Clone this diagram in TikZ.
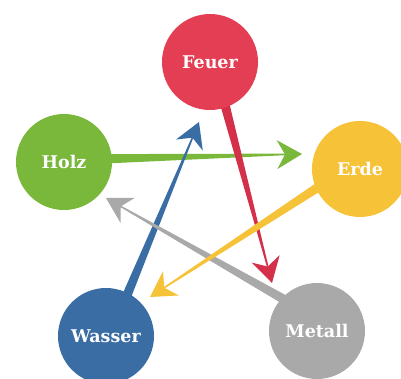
\documentclass[tikz,border=0pt]{standalone}
\usepackage{fontspec}
\setmainfont{DejaVu Serif}
\usetikzlibrary{calc,backgrounds}

\definecolor{feuerc}{HTML}{E43E55}
\definecolor{feuerarrow}{HTML}{D4304A}
\definecolor{holzc}{HTML}{79B83B}
\definecolor{erdec}{HTML}{F6C237}
\definecolor{wasserc}{HTML}{3A6DA3}
\definecolor{metallc}{HTML}{A9A9A9}

\tikzset{
  element/.style={circle, minimum size=96pt, inner sep=0pt, text=white,
    font=\fontsize{17.5}{20}\selectfont\bfseries},
}

% tapered arrow: #1 start anchor, #2 tip coordinate, #3 colour
\newcommand\elemarrow[3]{%
  \path ($(#1)!-12pt!(#2)$) coordinate (ab);
  \path ($(#2)!17pt!(#1)$) coordinate (an);
  \path ($(#2)!25pt!(#1)$) coordinate (ah);
  \fill[#3] ($(ab)!4.8pt!90:(#2)$) -- ($(an)!0.8pt!90:(#2)$)
    -- ($(an)!0.8pt!-90:(#2)$) -- ($(ab)!4.8pt!-90:(#2)$) -- cycle;
  \fill[#3] (#2) -- ($(ah)!14.5pt!90:(#2)$) -- (an)
    -- ($(ah)!14.5pt!-90:(#2)$) -- cycle;
}

\begin{document}
\begin{tikzpicture}[x=1pt, y=-1pt]
  \useasboundingbox (0,0) rectangle (401,378);
  \clip (0,0) rectangle (401,378);

  % the five elements
  \node[element, fill=feuerc]  (feuer)  at (210,62)  {Feuer};
  \node[element, fill=holzc]   (holz)   at (64,162)  {Holz};
  \node[element, fill=erdec]   (erde)   at (360,169) {Erde};
  \node[element, fill=wasserc] (wasser) at (106,336) {Wasser};
  \node[element, fill=metallc] (metall) at (317,331) {Metall};

  % arrow tips
  \coordinate (tipholz)   at (302,154);
  \coordinate (tipwasser) at (199,122);
  \coordinate (tipmetall) at (106,198);
  \coordinate (tipfeuer)  at (272,283);
  \coordinate (tiperde)   at (150,297);

  \begin{scope}[on background layer]
    \elemarrow{holz.4}{tipholz}{holzc}
    \elemarrow{wasser.63}{tipwasser}{wasserc}
    \elemarrow{metall.137}{tipmetall}{metallc}
    \elemarrow{feuer.-71}{tipfeuer}{feuerarrow}
    \elemarrow{erde.204}{tiperde}{erdec}
  \end{scope}
\end{tikzpicture}
\end{document}
